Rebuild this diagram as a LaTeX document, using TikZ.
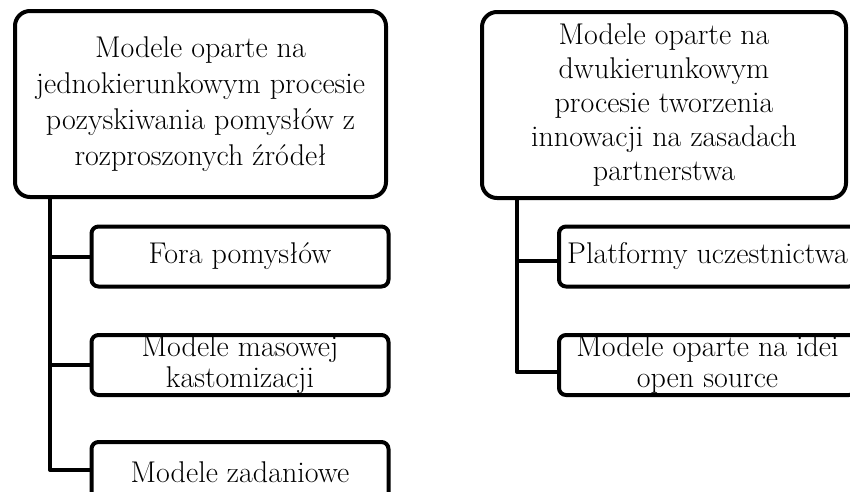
\documentclass[tikz,border=0pt]{standalone}
\usepackage{tikz}

\begin{document}
\begin{tikzpicture}[
   x=1pt,
   y=-1pt,
   line cap=round,
   line join=round,
   every node/.style={font=\fontsize{30}{35}\selectfont},
   headbox/.style={draw=black,line width=4pt,rounded corners=15pt,
     fill=white,align=center,inner sep=0pt,minimum height=186pt},
   leafbox/.style={draw=black,line width=4pt,rounded corners=7pt,
     fill=white,align=center,inner sep=0pt,minimum width=297pt,
     minimum height=60pt,font=\fontsize{30}{31}\selectfont},
   conn/.style={draw=black,line width=4pt}
 ]
   \useasboundingbox (0,0) rectangle (850,491);
   \clip (0,0) rectangle (850,491);

   % Left branch: one-way sourcing of ideas.
   \node[headbox,minimum width=371pt,font=\fontsize{30}{36}\selectfont] (hl) at (200.5,104)
     {Modele oparte na\\ jednokierunkowym procesie\\
      pozyskiwania pomysłów z\\ rozproszonych źródeł};
   \node[leafbox] (fora) at (240,256.5) {Fora pomysłów};
   \node[leafbox] (masowe) at (240,365) {Modele masowej\\ kastomizacji};
   \node[leafbox] (zadan) at (240,472) {Modele zadaniowe};

   \draw[conn] ([xshift=37pt]hl.south west) |- (fora.west);
   \draw[conn] ([xshift=37pt]hl.south west) |- (masowe.west);
   \draw[conn] ([xshift=37pt]hl.south west) |- ([yshift=2pt]zadan.west);

   % Right branch: two-way partnership.
   \node[headbox,minimum width=364pt,font=\fontsize{30}{34}\selectfont] (hr) at (664,105)
     {Modele oparte na\\ dwukierunkowym\\ procesie tworzenia\\
      innowacji na zasadach\\ partnerstwa};
   \node[leafbox] (platf) at (707.5,256.5) {Platformy uczestnictwa};
   \node[leafbox] (open) at (707.5,365) {Modele oparte na idei\\ open source};

   \draw[conn] ([xshift=37pt]hr.south west) |- ([yshift=-4pt]platf.west);
   \draw[conn] ([xshift=37pt]hr.south west) |- ([yshift=-7pt]open.west);
 \end{tikzpicture}
\end{document}
